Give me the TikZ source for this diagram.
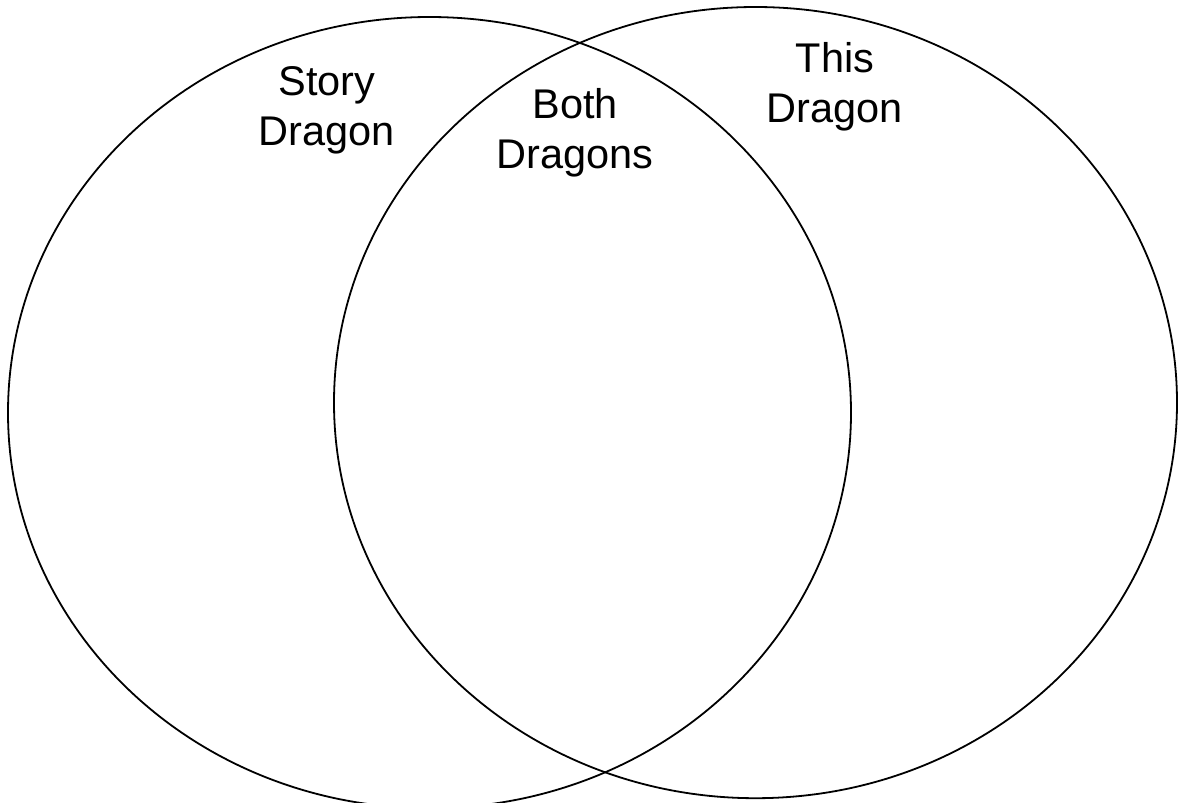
\documentclass[tikz,border=0pt]{standalone}
\usepackage{fontspec}
\setmainfont{Liberation Sans}
\begin{document}
\begin{tikzpicture}[x=1pt,y=-1pt,
  venn/.style={draw=black,line width=1.8pt},
  lbl/.style={font=\fontsize{41.5}{50}\selectfont,align=center,anchor=base,inner sep=0pt}]
\useasboundingbox (0,0) rectangle (1178,803);
\clip (0,0) rectangle (1178,803);
\fill[white] (0,0) rectangle (1178,803);
\draw[venn] (429.5,412.6) ellipse [x radius=421.5, y radius=395.6];
\draw[venn] (755.5,402.6) ellipse [x radius=421.5, y radius=395.6];
\node[lbl] (story) at (327,145) {Story\\Dragon};
\node[lbl] (both) at (575,168) {Both\\Dragons};
\node[lbl] (this) at (835,122) {This\\Dragon};
\end{tikzpicture}
\end{document}
